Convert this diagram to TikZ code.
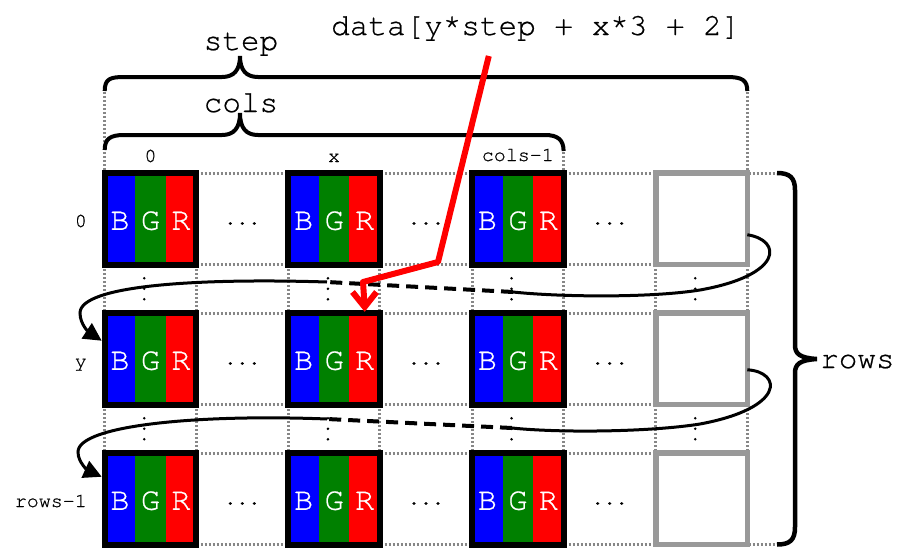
\documentclass[tikz,border=0pt]{standalone}
\usepackage{fontspec}
\newfontfamily\mono[FakeBold=0.6]{TeX Gyre Cursor}
\usetikzlibrary{arrows.meta,calc}
\definecolor{bgrB}{RGB}{0,0,255}
\definecolor{bgrG}{RGB}{0,128,0}
\definecolor{bgrR}{RGB}{255,0,0}
\definecolor{gridgray}{RGB}{135,135,135}
\definecolor{boxgray}{RGB}{153,153,153}
\begin{document}
\begin{tikzpicture}[x=1pt,y=-1pt,
  gridline/.style={gridgray, line width=3pt, dash pattern=on 2pt off 2pt},
  pixbox/.style={draw=black, line width=6pt, minimum width=91.5pt, minimum height=91.5pt, inner sep=0pt, outer sep=0pt, anchor=north west},
  emptybox/.style={pixbox, draw=boxgray, line width=5.5pt},
  stripe/.style={minimum width=30.5pt, minimum height=91.5pt, inner sep=0pt, outer sep=0pt, anchor=north west},
  letter/.style={text=white, font=\mono\fontsize{32}{32}\selectfont, inner sep=0pt},
  small/.style={font=\mono\fontsize{20}{20}\selectfont, inner sep=0pt},
  big/.style={font=\mono\fontsize{31}{31}\selectfont, inner sep=0pt},
  bracestyle/.style={line width=4pt},
  loopline/.style={line width=3pt},
  loopdash/.style={line width=4pt, dash pattern=on 12pt off 7pt},
  redline/.style={bgrR, line width=6pt},
  vdot/.style={circle, fill=black, inner sep=0pt, minimum size=2.8pt}
]
\useasboundingbox (0,0) rectangle (898,547);

% grid lines
\foreach \yy in {264.5,313,404.5,453} \draw[gridline] (104.7,\yy) -- (747.3,\yy);
\foreach \yy in {173,544.5} \draw[gridline] (104.7,\yy) -- (777,\yy);
\foreach \xx in {104.7,196.2,288.4,379.9,472.1,563.6,655.8,747.3}
  \draw[gridline] (\xx,173) -- (\xx,544.5);
\draw[gridline] (104.7,92) -- (104.7,173);
\draw[gridline] (747.3,92) -- (747.3,173);
\draw[gridline] (563.6,152) -- (563.6,173);

% pixels
\foreach \r/\y in {1/173,2/313,3/453}{
  \foreach \c/\x in {1/104.7,2/288.4,3/472.1}{
    \node[stripe, fill=bgrB] (b\r\c) at (\x,\y) {};
    \node[stripe, fill=bgrG] (g\r\c) at (\x+30.5,\y) {};
    \node[stripe, fill=bgrR] (r\r\c) at (\x+61,\y) {};
    \node[letter] at ([yshift=-2pt]b\r\c.center) {B};
    \node[letter] at ([yshift=-2pt]g\r\c.center) {G};
    \node[letter] at ([yshift=-2pt]r\r\c.center) {R};
    \node[pixbox] (p\r\c) at (\x,\y) {};
  }
  \node[emptybox] (p\r4) at (655.8,\y) {};
  \foreach \dx in {242.3,426,609.7}
    \node[small, anchor=base] at (\dx,\y+51.5) {...};
}

% vertical dots
\foreach \gy in {288.75,428.75}
  \foreach \xx in {144.2,327.9,511.6,695.3}{
    \node[vdot] at (\xx,\gy-10.5) {};
    \node[vdot] at (\xx,\gy) {};
    \node[vdot] at (\xx,\gy+10.5) {};
  }

% column / row labels
\node[small, anchor=base] (c0) at (150.5,162) {0};
\node[small, anchor=base] (cx) at (334,162) {x};
\node[small, anchor=base] (cn) at (517.8,161) {cols-1};
\node[small, anchor=base east] (r0) at (87,227) {0};
\node[small, anchor=base east] (ry) at (87,367) {y};
\node[small, anchor=base east] (rn) at (87,507) {rows-1};

% braces
\draw[bracestyle] (104.7,91) .. controls (104.7,79) and (110,77) .. (124,77) -- (222,77)
  .. controls (234,77) and (240,70) .. (240,56) .. controls (240,70) and (246,77) .. (258,77)
  -- (727,77) .. controls (742,77) and (747.3,80) .. (747.3,91);
\draw[bracestyle] (104.7,150) .. controls (104.7,139) and (110,135) .. (124,135) -- (222,135)
  .. controls (234,135) and (240,128) .. (240,113) .. controls (240,128) and (246,135) .. (258,135)
  -- (545,135) .. controls (558,135) and (563.6,140) .. (563.6,151);
\draw[bracestyle, line width=4.5pt] (777,173) .. controls (790,173) and (795,178) .. (795,190) -- (795,345)
  .. controls (795,354) and (800,358) .. (817,359) .. controls (800,360) and (795,364) .. (795,373)
  -- (795,527) .. controls (795,540) and (790,544.5) .. (777,544.5);
\node[big, anchor=base] (steplbl) at (241,50) {step};
\node[big, anchor=base] (colslbl) at (241,112) {cols};
\node[big, anchor=base west] (rowslbl) at (820,368) {rows};
\node[big, anchor=base west] (data) at (331,35) {data[y*step + x*3 + 2]};

% row wrap loops
\draw[loopline] ([yshift=-16pt]p14.east) .. controls (782,240) and (784,275) .. (700,290)
  .. controls (650,298) and (560,297) .. (513,292) coordinate (l1a);
\draw[loopdash] (l1a) -- (327,282) coordinate (l1b);
\draw[loopline, -{Triangle[length=18pt,width=18pt]}] (l1b) .. controls (200,278) and (80,285) .. (80,313)
  .. controls (80,325) and (90,333) .. ([xshift=-3pt,yshift=18pt]p21.west);

\draw[loopline] ([yshift=-11pt]p24.east) .. controls (782,372) and (786,408) .. (700,424)
  .. controls (650,432) and (560,433) .. (512,428) coordinate (l2a);
\draw[loopdash] (l2a) -- (327,419) coordinate (l2b);
\draw[loopline, -{Triangle[length=18pt,width=18pt]}] (l2b) .. controls (200,414) and (78,425) .. (78,452)
  .. controls (78,463) and (89,471) .. ([xshift=-3pt,yshift=22pt]p31.west);

% red pointer
\draw[redline, line join=round] ([xshift=-47pt,yshift=-15pt]data.south) -- (438,262) -- (363,282) -- ([yshift=6pt]r22.north);
\draw[redline, line join=miter] (352.5,292) -- ([yshift=6pt]r22.north) -- (376.5,292);
\end{tikzpicture}
\end{document}
